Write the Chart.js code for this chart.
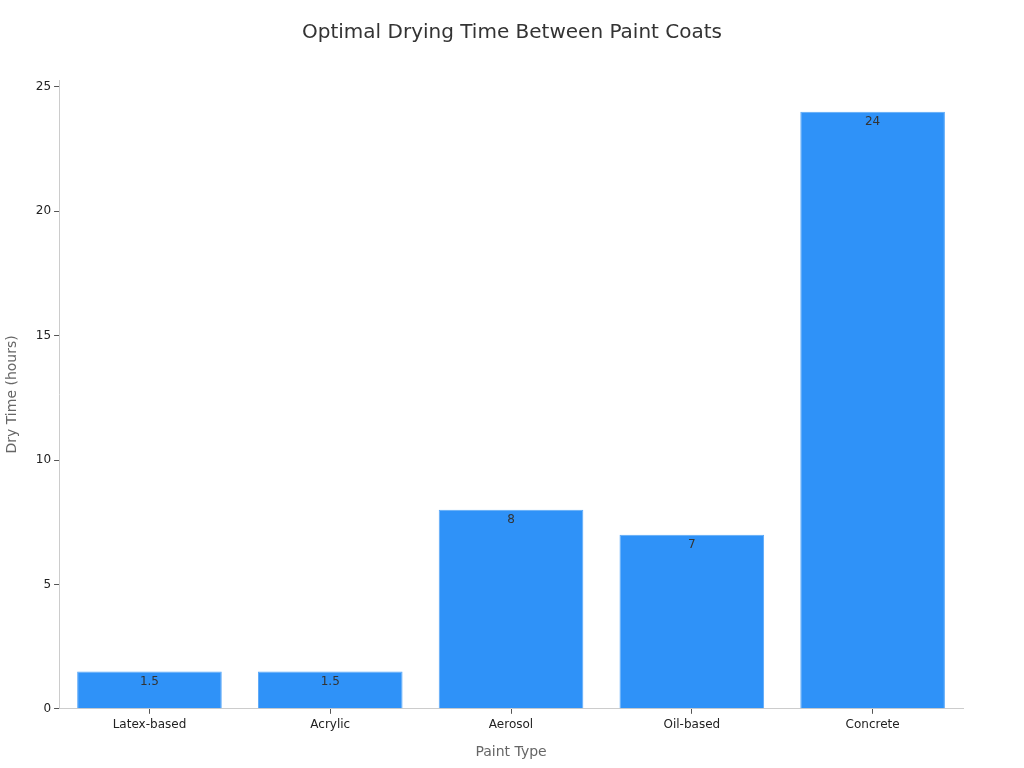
<!DOCTYPE html>
<html>
<head>
<meta charset="utf-8">
<script src="https://cdn.jsdelivr.net/npm/chart.js@4/dist/chart.umd.min.js"></script>
<style>
html,body{margin:0;padding:0;background:#fff;}
#wrap{width:1024px;height:768px;}
</style>
</head>
<body>
<div id="wrap"><canvas id="c" width="1024" height="768"></canvas></div>
<script>
const categories = ["Latex-based", "Acrylic", "Aerosol", "Oil-based", "Concrete"];
const dryHours = [1.5, 1.5, 8, 7, 24];
const yTicks = [0, 5, 10, 15, 20, 25];
const chartTitle = 'Optimal Drying Time Between Paint Coats';

const FONT = "'DejaVu Sans', sans-serif";

const valueLabels = {
  id: 'valueLabels',
  afterDatasetsDraw(chart) {
    const ctx = chart.ctx;
    const meta = chart.getDatasetMeta(0);
    ctx.save();
    ctx.font = "12px " + FONT;
    ctx.fillStyle = '#333333';
    ctx.textAlign = 'center';
    ctx.textBaseline = 'middle';
    meta.data.forEach((bar, i) => {
      ctx.fillText(String(dryHours[i]), bar.x, bar.y + 10);
    });
    ctx.restore();
  }
};

const centeredTitle = {
  id: 'centeredTitle',
  afterDraw(chart) {
    const ctx = chart.ctx;
    ctx.save();
    ctx.font = "20px " + FONT;
    ctx.fillStyle = '#333333';
    ctx.textAlign = 'center';
    ctx.textBaseline = 'middle';
    ctx.fillText(chartTitle, chart.width / 2, 33);
    ctx.restore();
  }
};

new Chart(document.getElementById('c'), {
  type: 'bar',
  data: {
    labels: categories,
    datasets: [{
      data: dryHours,
      backgroundColor: '#2F92F8',
      borderColor: '#5AA8F8',
      borderWidth: 1,
      barPercentage: 0.8,
      categoryPercentage: 1.0
    }]
  },
  options: {
    responsive: false,
    animation: false,
    layout: { padding: { left: 0, right: 61, top: 80, bottom: 3 } },
    plugins: {
      legend: { display: false },
      tooltip: { enabled: false },
      title: { display: false }
    },
    scales: {
      x: {
        offset: true,
        grid: { display: true, drawOnChartArea: false, offset: false, tickLength: 5, color: '#555555' },
        border: { display: true, color: '#cccccc' },
        ticks: { color: '#222222', font: { family: FONT, size: 12 }, padding: 4 },
        title: { display: true, text: 'Paint Type', color: '#666666', font: { family: FONT, size: 14 }, padding: { top: 8 } }
      },
      y: {
        min: 0,
        max: 25.28,
        afterBuildTicks(scale) { scale.ticks = yTicks.map(v => ({ value: v })); },
        grid: { display: true, drawOnChartArea: false, tickLength: 5, color: '#555555' },
        border: { display: true, color: '#cccccc' },
        ticks: { color: '#222222', font: { family: FONT, size: 12 }, padding: 3 },
        title: { display: true, text: 'Dry Time (hours)', color: '#666666', font: { family: FONT, size: 14 }, padding: { bottom: 12 } }
      }
    }
  },
  plugins: [valueLabels, centeredTitle]
});
</script>
</body>
</html>
